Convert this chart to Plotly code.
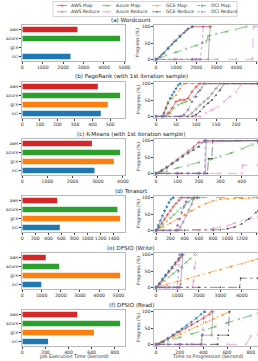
import plotly.graph_objects as go

W, H = 258, 361

CATEGORIES = ["aws", "azure", "gce", "oci"]
BAR_COLORS = ["#d62728", "#2ca02c", "#ff7f0e", "#1f77b4"]
TITLES = ["(a) Wordcount", "(b) PageRank (with 1st iteration sample)",
          "(c) K-Means (with 1st iteration sample)", "(d) Terasort",
          "(e) DFSIO (Write)", "(f) DFSIO (Read)"]

# Job execution time (seconds) per provider: aws, azure, gce, oci
WC_TIME = [2700, 4790, None, 2360]
PR_TIME = [430, 557, 487, 447]
KM_TIME = [2770, 3890, 3640, 2870]
TS_TIME = [534, 1459, 1500, 575]
DW_TIME = [1220, 1920, 5090, 990]
DR_TIME = [475, 846, 620, 223]

BAR_DTICK = [1000, 100, 1000, 200, 1000, 200]
PROG_DTICK = [1000, 50, 100, 200, 1000, 200]
PROG_XMAX = [5075, 255, 476, 1428, 4760, 861]

SERIES = ["AWS Map", "AWS Reduce", "Azure Map", "Azure Reduce",
          "GCE Map", "GCE Reduce", "OCI Map", "OCI Reduce"]

# ---- (a) Wordcount progress ----
WC_AWS_MAP_X = [0, 300, 600, 900, 1200, 1500, 1800, 2700]
WC_AWS_MAP_Y = [0, 15, 35, 55, 72, 88, 100, 100]
WC_AWS_RED_X = [0, 900, 1800, 2600, 2650, 2700]
WC_AWS_RED_Y = [0, 0, 0, 0, 60, 100]
WC_AZ_MAP_X = [0, 500, 1000, 1500, 2000, 2500, 2600, 3000, 3500, 4000, 4500]
WC_AZ_MAP_Y = [0, 12, 22, 32, 42, 54, 72, 78, 84, 92, 100]
WC_AZ_RED_X = [0, 1000, 2000, 3000, 4000, 4800, 4850, 5000]
WC_AZ_RED_Y = [0, 0, 0, 0, 0, 0, 100, 100]
WC_GCE_MAP_X, WC_GCE_MAP_Y = [], []
WC_GCE_RED_X, WC_GCE_RED_Y = [], []
WC_OCI_MAP_X = [0, 200, 400, 600, 800, 1000, 1200, 1400, 1600, 1800]
WC_OCI_MAP_Y = [0, 8, 20, 33, 46, 58, 70, 82, 94, 100]
WC_OCI_RED_X = [0, 1800, 2000, 2200, 2300, 2350]
WC_OCI_RED_Y = [0, 0, 0, 0, 50, 100]

# ---- (b) PageRank progress ----
PR_AWS_MAP_X = [20, 30, 40, 50, 60, 70, 80, 90, 100, 110, 255]
PR_AWS_MAP_Y = [0, 10, 25, 45, 50, 50, 55, 75, 90, 100, 100]
PR_AWS_RED_X = [0, 80, 90, 100, 110, 120, 130, 140, 150, 160, 255]
PR_AWS_RED_Y = [0, 0, 10, 22, 35, 45, 55, 70, 85, 100, 100]
PR_AZ_MAP_X = [25, 35, 45, 55, 65, 75, 85, 95, 105, 115, 125, 255]
PR_AZ_MAP_Y = [0, 10, 25, 35, 40, 45, 50, 60, 75, 88, 100, 100]
PR_AZ_RED_X = [0, 110, 125, 140, 155, 170, 185, 200, 215, 255]
PR_AZ_RED_Y = [0, 0, 10, 20, 30, 45, 60, 75, 100, 100]
PR_GCE_MAP_X = [15, 20, 25, 30, 40, 50, 60, 70, 255]
PR_GCE_MAP_Y = [0, 12, 30, 45, 55, 65, 85, 100, 100]
PR_GCE_RED_X = [0, 90, 100, 110, 120, 130, 140, 150, 160, 170, 255]
PR_GCE_RED_Y = [0, 0, 5, 15, 30, 40, 50, 65, 80, 100, 100]
PR_OCI_MAP_X = [15, 20, 25, 30, 35, 40, 45, 50, 55, 60, 255]
PR_OCI_MAP_Y = [0, 10, 25, 40, 55, 65, 75, 85, 95, 100, 100]
PR_OCI_RED_X = [0, 60, 70, 80, 90, 100, 110, 120, 255]
PR_OCI_RED_Y = [0, 0, 5, 20, 45, 60, 80, 100, 100]

# ---- (c) K-Means progress ----
KM_AWS_MAP_X = [0, 25, 50, 75, 100, 125, 150, 175, 200, 476]
KM_AWS_MAP_Y = [0, 8, 18, 30, 42, 55, 68, 80, 95, 100]
KM_AWS_RED_X = [0, 100, 200, 230, 235, 476]
KM_AWS_RED_Y = [0, 0, 0, 0, 100, 100]
KM_AZ_MAP_X = [0, 50, 100, 150, 200, 250, 300, 350, 400, 450, 476]
KM_AZ_MAP_Y = [0, 8, 16, 24, 33, 42, 52, 62, 75, 88, 92]
KM_AZ_RED_X = [0, 100, 200, 300, 400, 405, 476]
KM_AZ_RED_Y = [0, 0, 0, 0, 0, 25, 25]
KM_GCE_MAP_X = [0, 25, 50, 75, 100, 125, 150, 175, 200, 230, 476]
KM_GCE_MAP_Y = [0, 10, 20, 30, 42, 52, 62, 72, 82, 100, 100]
KM_GCE_RED_X = [0, 120, 240, 245, 260, 265, 476]
KM_GCE_RED_Y = [0, 0, 0, 45, 45, 100, 100]
KM_OCI_MAP_X = [0, 25, 50, 75, 100, 125, 150, 175, 200, 225, 476]
KM_OCI_MAP_Y = [0, 8, 18, 30, 40, 52, 62, 72, 82, 100, 100]
KM_OCI_RED_X = [0, 50, 100, 150, 200, 225, 230, 476]
KM_OCI_RED_Y = [0, 0, 0, 0, 0, 0, 100, 100]

# ---- (d) Terasort progress ----
TS_AWS_MAP_X = [0, 40, 80, 120, 160, 200, 240, 280, 320, 360, 534]
TS_AWS_MAP_Y = [0, 10, 22, 35, 48, 60, 72, 82, 92, 100, 100]
TS_AWS_RED_X = [0, 150, 300, 340, 380, 420, 460, 500, 520, 534]
TS_AWS_RED_Y = [0, 0, 0, 10, 25, 45, 62, 80, 95, 100]
TS_AZ_MAP_X = [0, 50, 100, 150, 200, 250, 300, 350, 400, 450, 500, 600, 1428]
TS_AZ_MAP_Y = [0, 8, 18, 28, 38, 48, 58, 68, 78, 88, 95, 100, 100]
TS_AZ_RED_X = [0, 300, 600, 700, 800, 900, 1000, 1100, 1200, 1300, 1428]
TS_AZ_RED_Y = [0, 0, 0, 2, 6, 10, 14, 22, 30, 34, 40]
TS_GCE_MAP_X = [0, 100, 200, 300, 400, 500, 600, 700, 800, 900, 1000, 1100, 1200, 1300, 1428]
TS_GCE_MAP_Y = [0, 10, 22, 35, 48, 60, 72, 82, 90, 95, 97, 98, 98, 99, 100]
TS_GCE_RED_X = [0, 400, 800, 900, 1000, 1100, 1200, 1300, 1400, 1428]
TS_GCE_RED_Y = [0, 0, 0, 2, 5, 10, 20, 35, 55, 60]
TS_OCI_MAP_X = [0, 30, 60, 90, 120, 150, 180, 210, 240, 575]
TS_OCI_MAP_Y = [0, 15, 30, 45, 60, 72, 85, 95, 100, 100]
TS_OCI_RED_X = [0, 100, 200, 280, 300, 330, 360, 390, 420, 450, 575]
TS_OCI_RED_Y = [0, 0, 0, 0, 15, 35, 55, 72, 88, 100, 100]

# ---- (e) DFSIO (Write) progress ----
DW_AWS_MAP_X = [0, 150, 300, 450, 600, 750, 900, 1050, 1150, 1250]
DW_AWS_MAP_Y = [0, 10, 22, 35, 47, 58, 70, 82, 92, 100]
DW_AWS_RED_X = [0, 500, 1100, 1150, 1200, 1250]
DW_AWS_RED_Y = [0, 0, 0, 10, 60, 100]
DW_AZ_MAP_X = [0, 200, 400, 600, 800, 1000, 1200, 1400, 1600, 1800]
DW_AZ_MAP_Y = [0, 10, 20, 31, 42, 53, 64, 76, 88, 100]
DW_AZ_RED_X = [0, 500, 1000, 1500, 1700, 1750, 1800, 1900]
DW_AZ_RED_Y = [0, 0, 0, 0, 0, 20, 60, 100]
DW_GCE_MAP_X = [0, 500, 1000, 1500, 2000, 2500, 3000, 3500, 4000, 4500, 4760]
DW_GCE_MAP_Y = [0, 9, 18, 27, 36, 45, 54, 63, 72, 82, 87]
DW_GCE_RED_X = [0, 1000, 2000, 3000, 3900, 3950, 4760]
DW_GCE_RED_Y = [0, 0, 0, 0, 0, 28, 28]
DW_OCI_MAP_X = [0, 150, 300, 450, 600, 750, 900, 1050, 1200]
DW_OCI_MAP_Y = [0, 12, 25, 38, 50, 62, 75, 88, 100]
DW_OCI_RED_X = [0, 200, 400, 600, 800, 1000, 1050, 1100]
DW_OCI_RED_Y = [0, 0, 0, 0, 0, 0, 50, 100]

# ---- (f) DFSIO (Read) progress ----
DR_AWS_MAP_X = [0, 50, 100, 150, 200, 250, 300, 350, 400, 450, 470]
DR_AWS_MAP_Y = [0, 8, 18, 28, 38, 50, 60, 70, 80, 92, 100]
DR_AWS_RED_X = [0, 200, 380, 390, 470, 480]
DR_AWS_RED_Y = [0, 0, 0, 28, 28, 100]
DR_AZ_MAP_X = [0, 100, 200, 300, 400, 500, 600, 700, 800, 861]
DR_AZ_MAP_Y = [0, 10, 21, 32, 43, 54, 66, 77, 88, 95]
DR_AZ_RED_X = [0, 200, 400, 600, 760, 800, 861]
DR_AZ_RED_Y = [0, 0, 0, 0, 0, 25, 30]
DR_GCE_MAP_X = [0, 70, 140, 210, 280, 350, 420, 490, 560, 620]
DR_GCE_MAP_Y = [0, 10, 20, 32, 44, 55, 67, 78, 90, 100]
DR_GCE_RED_X = [0, 260, 520, 525, 610, 620]
DR_GCE_RED_Y = [0, 0, 0, 28, 28, 100]
DR_OCI_MAP_X = [20, 60, 100, 140, 180, 220, 260, 300, 340, 380, 410]
DR_OCI_MAP_Y = [0, 8, 18, 28, 38, 48, 58, 68, 80, 92, 100]
DR_OCI_RED_X = [0, 100, 200, 300, 385, 390, 410]
DR_OCI_RED_Y = [0, 0, 0, 0, 0, 28, 100]

BAR_DATA = [WC_TIME, PR_TIME, KM_TIME, TS_TIME, DW_TIME, DR_TIME]
PROGRESS = [
    {"AWS Map": (WC_AWS_MAP_X, WC_AWS_MAP_Y), "AWS Reduce": (WC_AWS_RED_X, WC_AWS_RED_Y),
     "Azure Map": (WC_AZ_MAP_X, WC_AZ_MAP_Y), "Azure Reduce": (WC_AZ_RED_X, WC_AZ_RED_Y),
     "GCE Map": (WC_GCE_MAP_X, WC_GCE_MAP_Y), "GCE Reduce": (WC_GCE_RED_X, WC_GCE_RED_Y),
     "OCI Map": (WC_OCI_MAP_X, WC_OCI_MAP_Y), "OCI Reduce": (WC_OCI_RED_X, WC_OCI_RED_Y)},
    {"AWS Map": (PR_AWS_MAP_X, PR_AWS_MAP_Y), "AWS Reduce": (PR_AWS_RED_X, PR_AWS_RED_Y),
     "Azure Map": (PR_AZ_MAP_X, PR_AZ_MAP_Y), "Azure Reduce": (PR_AZ_RED_X, PR_AZ_RED_Y),
     "GCE Map": (PR_GCE_MAP_X, PR_GCE_MAP_Y), "GCE Reduce": (PR_GCE_RED_X, PR_GCE_RED_Y),
     "OCI Map": (PR_OCI_MAP_X, PR_OCI_MAP_Y), "OCI Reduce": (PR_OCI_RED_X, PR_OCI_RED_Y)},
    {"AWS Map": (KM_AWS_MAP_X, KM_AWS_MAP_Y), "AWS Reduce": (KM_AWS_RED_X, KM_AWS_RED_Y),
     "Azure Map": (KM_AZ_MAP_X, KM_AZ_MAP_Y), "Azure Reduce": (KM_AZ_RED_X, KM_AZ_RED_Y),
     "GCE Map": (KM_GCE_MAP_X, KM_GCE_MAP_Y), "GCE Reduce": (KM_GCE_RED_X, KM_GCE_RED_Y),
     "OCI Map": (KM_OCI_MAP_X, KM_OCI_MAP_Y), "OCI Reduce": (KM_OCI_RED_X, KM_OCI_RED_Y)},
    {"AWS Map": (TS_AWS_MAP_X, TS_AWS_MAP_Y), "AWS Reduce": (TS_AWS_RED_X, TS_AWS_RED_Y),
     "Azure Map": (TS_AZ_MAP_X, TS_AZ_MAP_Y), "Azure Reduce": (TS_AZ_RED_X, TS_AZ_RED_Y),
     "GCE Map": (TS_GCE_MAP_X, TS_GCE_MAP_Y), "GCE Reduce": (TS_GCE_RED_X, TS_GCE_RED_Y),
     "OCI Map": (TS_OCI_MAP_X, TS_OCI_MAP_Y), "OCI Reduce": (TS_OCI_RED_X, TS_OCI_RED_Y)},
    {"AWS Map": (DW_AWS_MAP_X, DW_AWS_MAP_Y), "AWS Reduce": (DW_AWS_RED_X, DW_AWS_RED_Y),
     "Azure Map": (DW_AZ_MAP_X, DW_AZ_MAP_Y), "Azure Reduce": (DW_AZ_RED_X, DW_AZ_RED_Y),
     "GCE Map": (DW_GCE_MAP_X, DW_GCE_MAP_Y), "GCE Reduce": (DW_GCE_RED_X, DW_GCE_RED_Y),
     "OCI Map": (DW_OCI_MAP_X, DW_OCI_MAP_Y), "OCI Reduce": (DW_OCI_RED_X, DW_OCI_RED_Y)},
    {"AWS Map": (DR_AWS_MAP_X, DR_AWS_MAP_Y), "AWS Reduce": (DR_AWS_RED_X, DR_AWS_RED_Y),
     "Azure Map": (DR_AZ_MAP_X, DR_AZ_MAP_Y), "Azure Reduce": (DR_AZ_RED_X, DR_AZ_RED_Y),
     "GCE Map": (DR_GCE_MAP_X, DR_GCE_MAP_Y), "GCE Reduce": (DR_GCE_RED_X, DR_GCE_RED_Y),
     "OCI Map": (DR_OCI_MAP_X, DR_OCI_MAP_Y), "OCI Reduce": (DR_OCI_RED_X, DR_OCI_RED_Y)},
]

STYLE = {
    "AWS Map":      dict(color="#d62728", dash="solid",   symbol="cross-thin"),
    "AWS Reduce":   dict(color="#7f7f7f", dash="solid",   symbol="cross-thin"),
    "Azure Map":    dict(color="#2ca02c", dash="dash",    symbol="x-thin"),
    "Azure Reduce": dict(color="#e377c2", dash="dash",    symbol="x-thin"),
    "GCE Map":      dict(color="#ff7f0e", dash="dashdot", symbol="circle"),
    "GCE Reduce":   dict(color="#444444", dash="dashdot", symbol="circle"),
    "OCI Map":      dict(color="#1f77b4", dash="dot",     symbol="star"),
    "OCI Reduce":   dict(color="#9467bd", dash="dot",     symbol="star"),
}

FONT = "DejaVu Sans"
TICK_FONT = dict(family=FONT, size=4.6, color="#333")
SPINE = "#b8b8b8"

TOPS = [25, 82, 139, 196, 253, 310]
PH = 36
LX = [22.3 / W, 125 / W]
RX = [154.3 / W, 1.0]


def mk(s):
    sym = s["symbol"]
    size = {"cross-thin": 2.6, "x-thin": 2.4, "circle": 1.8, "star": 2.8}[sym]
    thin = sym.endswith("-thin")
    return dict(symbol=sym, size=size, color=s["color"],
                line=dict(width=0.5 if thin else 0, color=s["color"]))


fig = go.Figure()
layout = {}
annotations = []

for i in range(6):
    ydom = [1 - (TOPS[i] + PH) / H, 1 - TOPS[i] / H]
    nL, nR = 2 * i + 1, 2 * i + 2
    xL = "x" if nL == 1 else f"x{nL}"
    yL = "y" if nL == 1 else f"y{nL}"
    xR, yR = f"x{nR}", f"y{nR}"
    times = BAR_DATA[i]
    fig.add_trace(go.Bar(x=times, y=list(range(len(CATEGORIES))), orientation="h",
                         marker=dict(color=BAR_COLORS, line=dict(width=0)), width=0.6,
                         xaxis=xL, yaxis=yL, showlegend=False))
    tmax = max(v for v in times if v is not None)
    common = dict(showline=True, linecolor=SPINE, linewidth=0.8, ticks="outside",
                  ticklen=2, tickwidth=0.6, tickcolor="#444", tickfont=TICK_FONT,
                  tickangle=0, showgrid=False, zeroline=False, automargin=False,
                  fixedrange=True)
    layout["xaxis" if nL == 1 else f"xaxis{nL}"] = dict(
        domain=LX, anchor=yL, range=[0, tmax * 1.05], dtick=BAR_DTICK[i], tick0=0,
        mirror=True, **common)
    layout["yaxis" if nL == 1 else f"yaxis{nL}"] = dict(
        domain=ydom, anchor=xL, range=[3.5, -0.5], tickvals=list(range(len(CATEGORIES))),
        ticktext=CATEGORIES, mirror=True, **common)

    for name in SERIES:
        xs, ys = PROGRESS[i][name]
        if not xs:
            continue
        s = STYLE[name]
        fig.add_trace(go.Scatter(x=xs, y=ys, mode="lines+markers",
                                 line=dict(color=s["color"], width=0.6, dash=s["dash"]),
                                 marker=mk(s), xaxis=xR, yaxis=yR, showlegend=False))
    xmax = PROG_XMAX[i]
    layout[f"xaxis{nR}"] = dict(domain=RX, anchor=yR, range=[-0.017 * xmax, xmax],
                                dtick=PROG_DTICK[i], tick0=0, mirror=True, **common)
    layout[f"yaxis{nR}"] = dict(domain=ydom, anchor=xR, range=[-5, 105],
                                tickvals=[0, 50, 100], mirror=False, **common)

    annotations.append(dict(text=TITLES[i], xref="paper", yref="paper", x=131 / W,
                            y=1 - (TOPS[i] - 5) / H, xanchor="center", yanchor="middle",
                            showarrow=False, font=dict(family=FONT, size=5.6, color="#222")))
    annotations.append(dict(text="Progress (%)", xref="paper", yref="paper", x=138 / W,
                            y=1 - (TOPS[i] + PH / 2) / H, xanchor="center", yanchor="middle",
                            textangle=-90, showarrow=False,
                            font=dict(family=FONT, size=4.6, color="#333")))

annotations.append(dict(text="Job Execution Time (Second)", xref="paper", yref="paper",
                        x=74 / W, y=1 - 356.5 / H, xanchor="center", yanchor="middle",
                        showarrow=False, font=dict(family=FONT, size=4.8, color="#333")))
annotations.append(dict(text="Time to Progression (Second)", xref="paper", yref="paper",
                        x=207 / W, y=1 - 356.5 / H, xanchor="center", yanchor="middle",
                        showarrow=False, font=dict(family=FONT, size=4.8, color="#333")))

# ---- manual legend (4 columns x 2 rows) on an overlay pixel axis ----
LEG_COL_X = [57, 102, 152, 197]
LEG_ROW_Y = [5.6, 11.8]
LEG_ORDER = [["AWS Map", "AWS Reduce"], ["Azure Map", "Azure Reduce"],
             ["GCE Map", "GCE Reduce"], ["OCI Map", "OCI Reduce"]]
for c, pair in enumerate(LEG_ORDER):
    for r, name in enumerate(pair):
        s = STYLE[name]
        x0 = LEG_COL_X[c]
        y0 = LEG_ROW_Y[r]
        m = mk(s)
        m["size"] = [0, m["size"], 0]
        fig.add_trace(go.Scatter(x=[x0, x0 + 5, x0 + 10], y=[y0, y0, y0], mode="lines+markers",
                                 line=dict(color=s["color"], width=0.6, dash=s["dash"]),
                                 marker=m, xaxis="x13", yaxis="y13", showlegend=False,
                                 cliponaxis=False))
        annotations.append(dict(text=name, xref="x13", yref="y13", x=x0 + 12, y=y0,
                                xanchor="left", yanchor="middle", showarrow=False,
                                font=dict(family=FONT, size=4.6, color="#333")))
layout["xaxis13"] = dict(domain=[0, 1], range=[0, W], visible=False, fixedrange=True,
                         anchor="y13")
layout["yaxis13"] = dict(domain=[0, 1], range=[H, 0], visible=False, fixedrange=True,
                         anchor="x13")
shapes = [dict(type="rect", xref="x13", yref="y13", x0=53, x1=237, y0=1.5, y1=16.5,
               line=dict(color="#cccccc", width=0.8), fillcolor="rgba(0,0,0,0)",
               layer="below")]

fig.update_layout(width=W, height=H, margin=dict(l=0, r=0, t=0, b=0),
                  paper_bgcolor="white", plot_bgcolor="rgba(0,0,0,0)",
                  font=dict(family=FONT, size=5, color="#333"),
                  annotations=annotations, shapes=shapes, showlegend=False,
                  bargap=0.4, **layout)

fig.write_html("out.html")
